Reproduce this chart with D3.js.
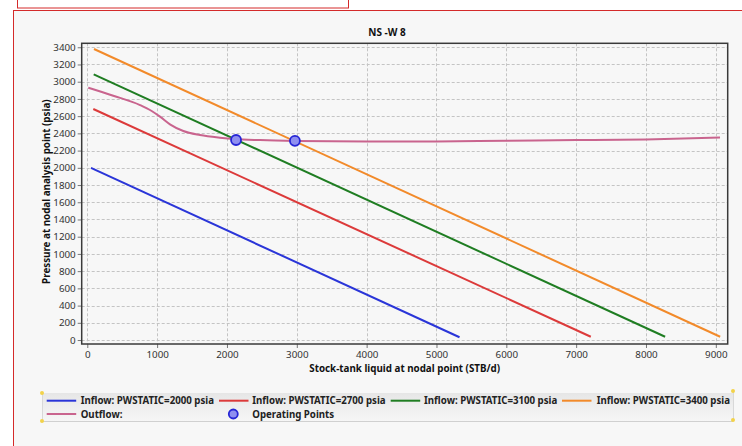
<!DOCTYPE html>
<html>
<head>
<meta charset="utf-8">
<script src="https://cdn.jsdelivr.net/npm/d3@7"></script>
<style>
  html, body { margin: 0; padding: 0; background: #ffffff; }
  svg { display: block; }
  text { font-family: "Noto Sans", "Open Sans", sans-serif; }
</style>
</head>
<body>
<svg id="chart" width="742" height="446"></svg>
<script>
// Nodal analysis: inflow (IPR) curves for several static pressures vs. the outflow curve
const xTicks = [0, 1000, 2000, 3000, 4000, 5000, 6000, 7000, 8000, 9000];
const yTicks = [0, 200, 400, 600, 800, 1000, 1200, 1400, 1600, 1800, 2000, 2200, 2400, 2600, 2800, 3000, 3200, 3400];

const inflowNames = [
  "Inflow: PWSTATIC=2000 psia",
  "Inflow: PWSTATIC=2700 psia",
  "Inflow: PWSTATIC=3100 psia",
  "Inflow: PWSTATIC=3400 psia"
];
const inflowColors = ["#2a35d8", "#dc3a3a", "#1f7d22", "#f28a2a"];

// [rate STB/d, pressure psia]
const inflow2000 = [[53, 2000], [5330, 32]];
const inflow2700 = [[86, 2683], [7210, 38]];
const inflow3100 = [[92, 3086], [8274, 38]];
const inflow3400 = [[96, 3380], [9062, 38]];

const outflow = [
  [14, 2930], [372, 2837], [755, 2729], [922, 2660], [1041, 2594],
  [1184, 2505], [1375, 2427], [1614, 2381], [1900, 2350], [2115, 2334],
  [2473, 2322], [3000, 2312], [4000, 2305], [5000, 2306], [6000, 2315],
  [7000, 2322], [8000, 2330], [9060, 2352]
];
const outflowColor = "#c9648e";

const operatingPoints = [[2130, 2323], [2973, 2313]];

const svg = d3.select("#chart");

// page background and frames
svg.append("rect").attr("x", 0).attr("y", 0).attr("width", 742).attr("height", 446).attr("fill", "#ffffff");
svg.append("rect").attr("x", 13.5).attr("y", 10.5).attr("width", 740).attr("height", 440)
  .attr("fill", "#f7f7f7").attr("stroke", "#d42a2a").attr("stroke-width", 1);
svg.append("rect").attr("x", 17.5).attr("y", -2).attr("width", 331).attr("height", 10)
  .attr("fill", "#ffffff").attr("stroke", "#d42a2a").attr("stroke-width", 1);

const plot = { left: 81.7, right: 727.7, top: 43.3, bottom: 344 };

const x = d3.scaleLinear().domain([-80, 9170]).range([plot.left, plot.right]);
const y = d3.scaleLinear().domain([-46, 3446]).range([plot.bottom, plot.top]);

// grid
const grid = svg.append("g").attr("stroke", "#c4c4c4").attr("stroke-width", 1).attr("stroke-dasharray", "3,2");
grid.selectAll(".gx").data(xTicks).join("line")
  .attr("x1", d => Math.round(x(d)) + 0.5).attr("x2", d => Math.round(x(d)) + 0.5)
  .attr("y1", plot.top).attr("y2", plot.bottom);
grid.selectAll(".gy").data(yTicks).join("line")
  .attr("y1", d => Math.round(y(d)) + 0.5).attr("y2", d => Math.round(y(d)) + 0.5)
  .attr("x1", plot.left).attr("x2", plot.right);

// axes
const fmt = d3.format("d");
const xAxis = d3.axisBottom(x).tickValues(xTicks).tickFormat(fmt).tickSize(4).tickSizeOuter(0).tickPadding(3);
const yAxis = d3.axisLeft(y).tickValues(yTicks).tickFormat(fmt).tickSize(4).tickSizeOuter(0).tickPadding(2);

const gx = svg.append("g").attr("transform", `translate(0,${plot.bottom})`).call(xAxis);
const gy = svg.append("g").attr("transform", `translate(${plot.left},0)`).call(yAxis);
[gx, gy].forEach(g => {
  g.select(".domain").remove();
  g.selectAll(".tick line").attr("stroke", "#777");
  g.selectAll(".tick text").attr("fill", "#333").style("font-size", "9.8px")
    .style("font-family", "'Noto Sans', sans-serif");
});

// plot frame
svg.append("rect").attr("x", plot.left).attr("y", plot.top)
  .attr("width", plot.right - plot.left).attr("height", plot.bottom - plot.top)
  .attr("fill", "none").attr("stroke", "#3a3a3a").attr("stroke-width", 1.5);

// title and axis titles
svg.append("text").attr("x", 387).attr("y", 36).attr("text-anchor", "middle")
  .attr("font-weight", "bold").attr("font-size", "10px").attr("fill", "#111").text("NS -W 8");
svg.append("text").attr("x", (plot.left + plot.right) / 2).attr("y", 372).attr("text-anchor", "middle")
  .attr("font-weight", "bold").attr("font-size", "9.8px").attr("fill", "#111")
  .text("Stock-tank liquid at nodal point (STB/d)");
svg.append("text").attr("transform", `translate(50,${(plot.top + plot.bottom) / 2 - 2}) rotate(-90)`)
  .attr("text-anchor", "middle").attr("font-weight", "bold").attr("font-size", "9.8px").attr("fill", "#111")
  .text("Pressure at nodal analysis point (psia)");

// curves
const line = d3.line().x(d => x(d[0])).y(d => y(d[1]));
const smooth = d3.line().x(d => x(d[0])).y(d => y(d[1])).curve(d3.curveMonotoneX);

const inflows = [inflow2000, inflow2700, inflow3100, inflow3400];
svg.append("g").selectAll("path").data(inflows).join("path")
  .attr("d", line).attr("fill", "none")
  .attr("stroke", (d, i) => inflowColors[i]).attr("stroke-width", 2);

svg.append("path").datum(outflow).attr("d", smooth).attr("fill", "none")
  .attr("stroke", outflowColor).attr("stroke-width", 2);

svg.append("g").selectAll("circle").data(operatingPoints).join("circle")
  .attr("cx", d => x(d[0])).attr("cy", d => y(d[1])).attr("r", 5)
  .attr("fill", "#8f8ff0").attr("stroke", "#2626d6").attr("stroke-width", 1.8);

// legend
const lg = svg.append("g");
const grad = svg.append("defs").append("linearGradient").attr("id", "lgbg")
  .attr("x1", 0).attr("y1", 0).attr("x2", 0).attr("y2", 1);
grad.append("stop").attr("offset", "0").attr("stop-color", "#e6e6e6");
grad.append("stop").attr("offset", "0.5").attr("stop-color", "#efefef");
grad.append("stop").attr("offset", "1").attr("stop-color", "#f6f6f6");
lg.append("rect").attr("x", 42).attr("y", 393).attr("width", 691).attr("height", 28).attr("fill", "url(#lgbg)");
lg.append("line").attr("x1", 42).attr("x2", 733).attr("y1", 421.5).attr("y2", 421.5).attr("stroke", "#d0d0d0");
lg.append("line").attr("x1", 42.5).attr("x2", 42.5).attr("y1", 393).attr("y2", 421).attr("stroke", "#d8d8d8");
lg.append("line").attr("x1", 733.5).attr("x2", 733.5).attr("y1", 391).attr("y2", 421).attr("stroke", "#d8d8d8");
[[42, 393], [42, 421], [733, 391], [733, 420]].forEach(p => {
  lg.append("circle").attr("cx", p[0]).attr("cy", p[1]).attr("r", 2).attr("fill", "#f2d24a");
});

const legendItems = [
  { name: inflowNames[0], color: inflowColors[0], lx: 46.7, tx: 80.7, row: 0 },
  { name: inflowNames[1], color: inflowColors[1], lx: 219, tx: 252.3, row: 0 },
  { name: inflowNames[2], color: inflowColors[2], lx: 390.7, tx: 424, row: 0 },
  { name: inflowNames[3], color: inflowColors[3], lx: 562, tx: 596.7, row: 0 },
  { name: "Outflow:", color: outflowColor, lx: 46.7, tx: 80.7, row: 1 }
];
const rowY = [400.7, 414];
legendItems.forEach(it => {
  lg.append("line").attr("x1", it.lx).attr("x2", it.lx + 29.5)
    .attr("y1", rowY[it.row]).attr("y2", rowY[it.row])
    .attr("stroke", it.color).attr("stroke-width", 2);
  lg.append("text").attr("x", it.tx).attr("y", rowY[it.row] + 3.5)
    .attr("font-weight", "bold").attr("font-size", "9.7px").attr("fill", "#222").text(it.name);
});
lg.append("circle").attr("cx", 233.3).attr("cy", rowY[1]).attr("r", 4.5)
  .attr("fill", "#8f8ff0").attr("stroke", "#2626d6").attr("stroke-width", 1.8);
lg.append("text").attr("x", 252.3).attr("y", rowY[1] + 3.5)
  .attr("font-weight", "bold").attr("font-size", "9.7px").attr("fill", "#222").text("Operating Points");
</script>
</body>
</html>
